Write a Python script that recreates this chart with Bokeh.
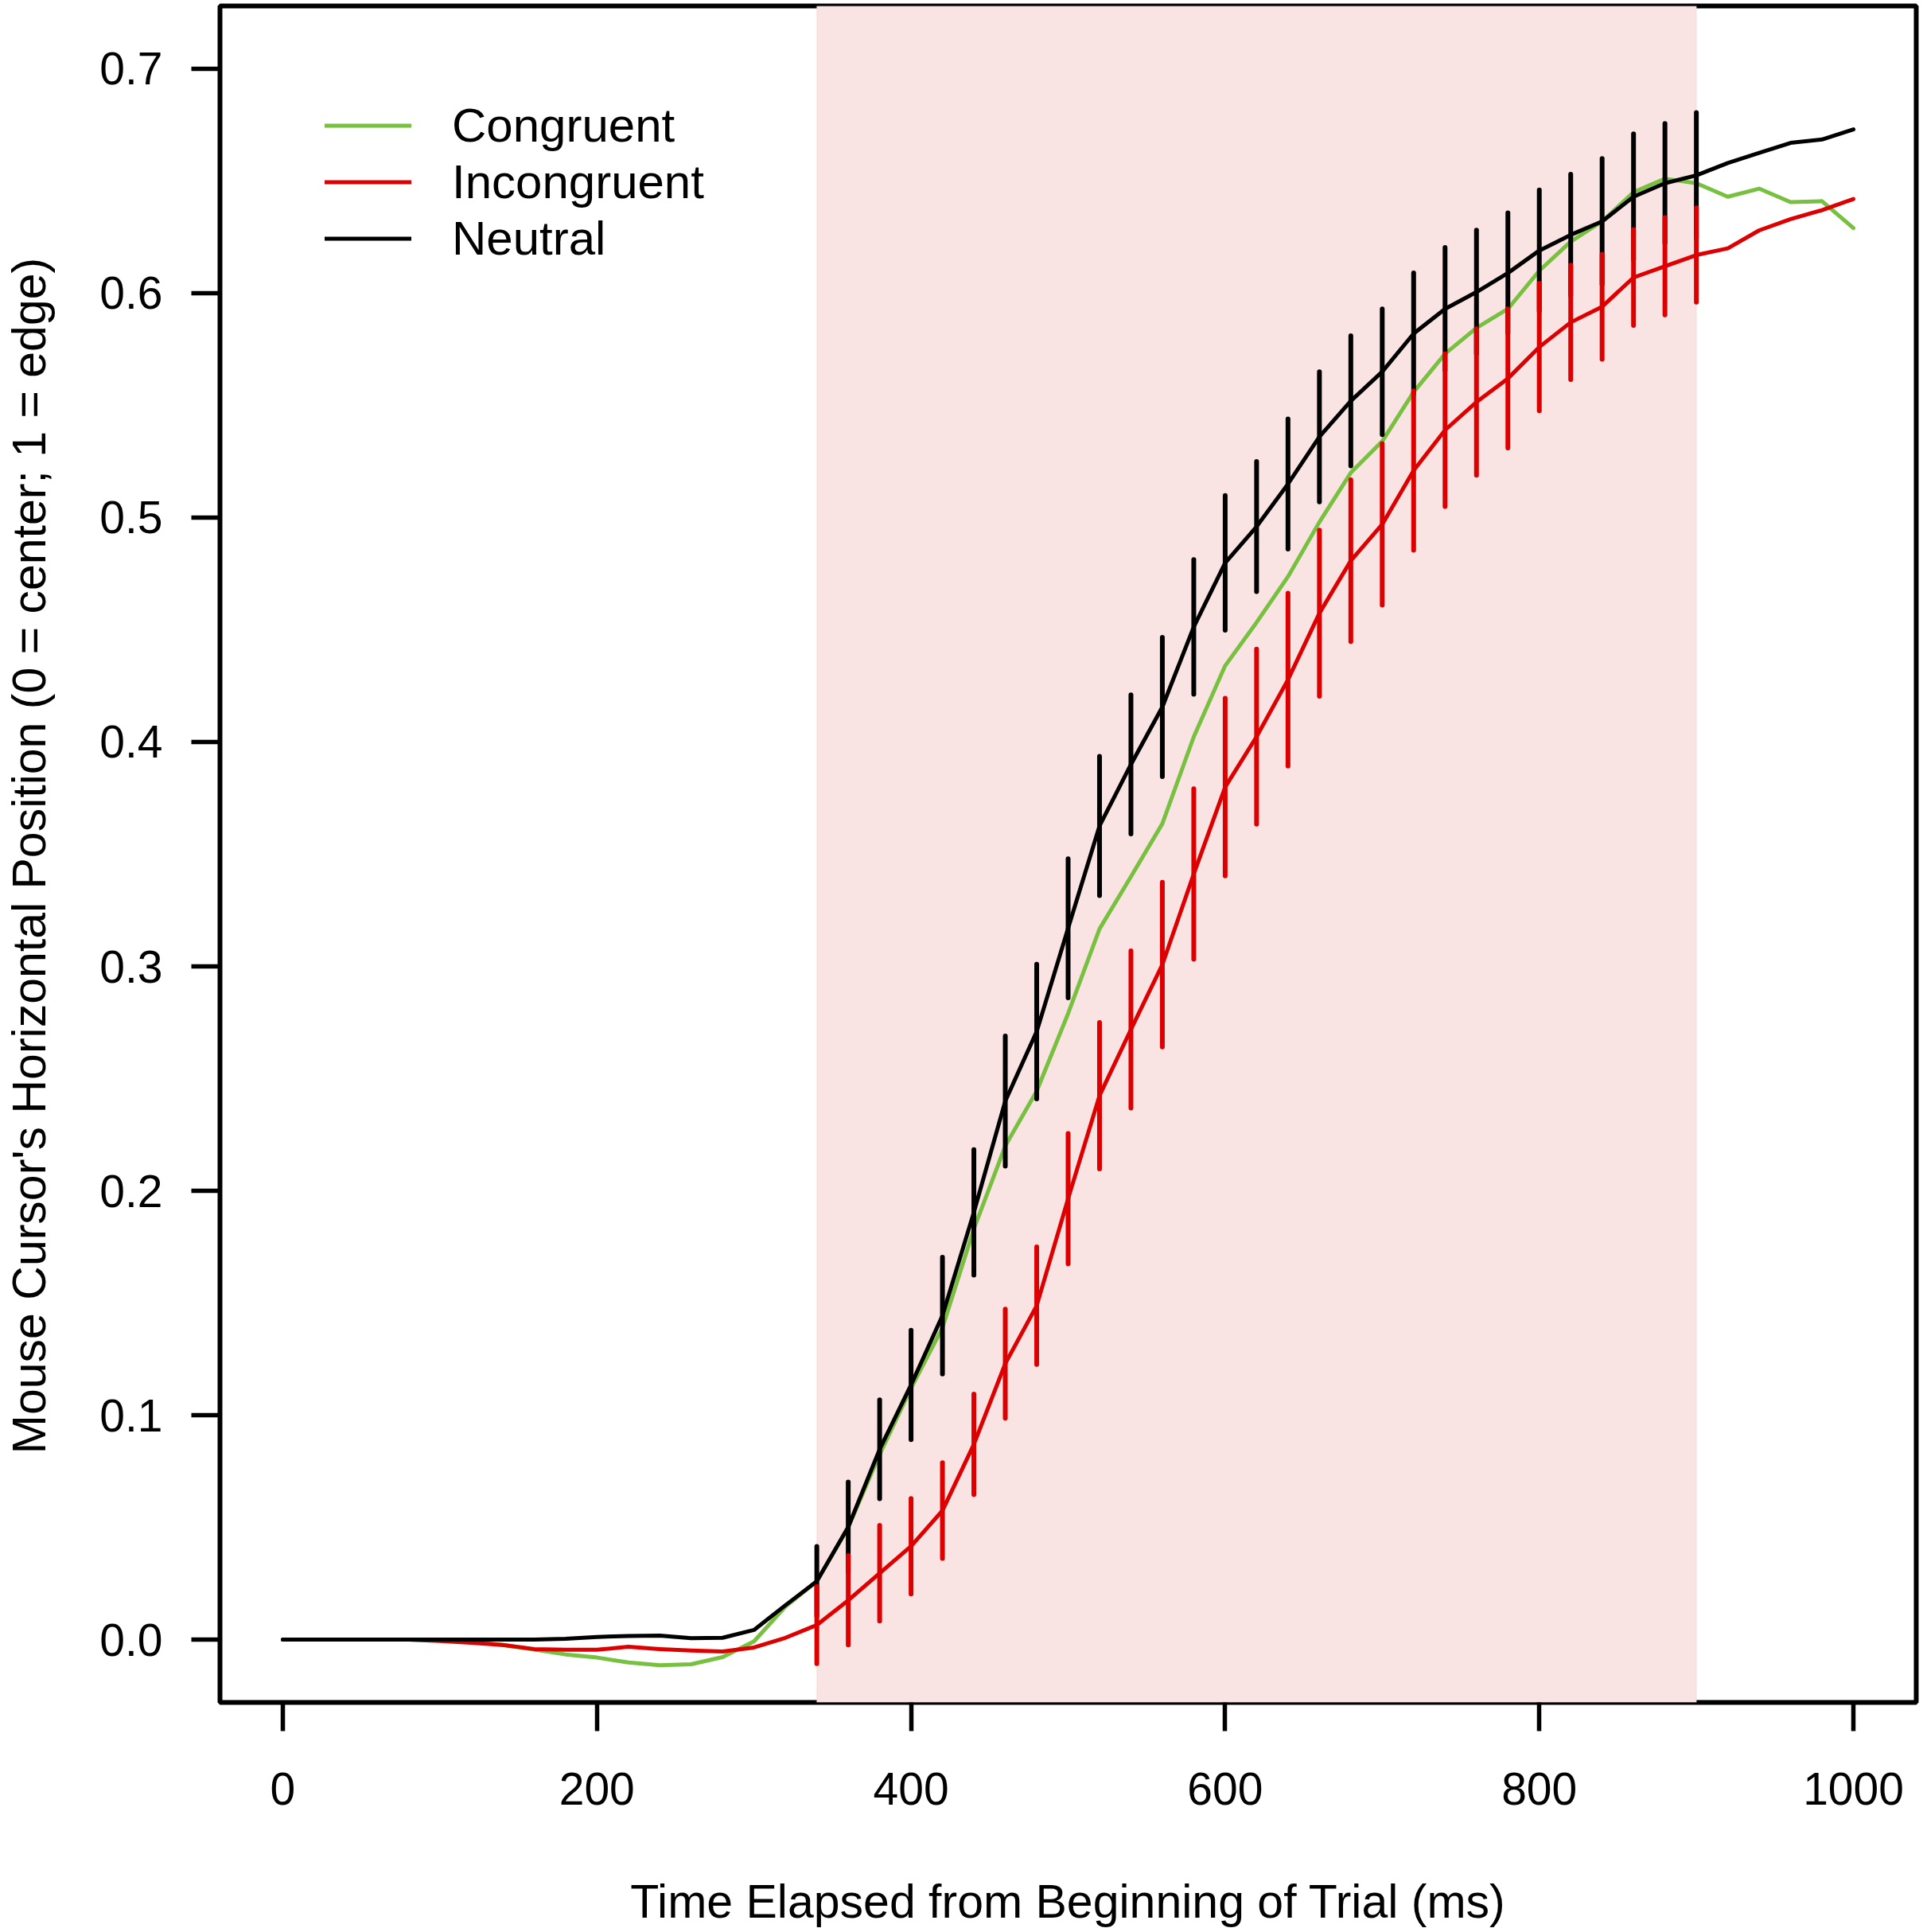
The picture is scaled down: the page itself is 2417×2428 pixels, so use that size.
import math
import numpy as np
from bokeh.plotting import figure
from bokeh.models import (Range1d, BoxAnnotation, Legend, LegendItem, FixedTicker,
                          ColumnDataSource, Label)
from bokeh.embed import file_html
from bokeh.resources import INLINE

# ---------------- data ----------------
time_ms = list(range(0, 1001, 20))

congruent = [0, 0, 0, 0, 0, -0.0002, -0.001, -0.0024, -0.0044, -0.0066,
             -0.008, -0.0102, -0.0114, -0.011, -0.0078, -0.0008, 0.0147, 0.026, 0.050, 0.0825,
             0.112, 0.139, 0.183, 0.220, 0.2444, 0.279, 0.3167, 0.340, 0.3636, 0.4023,
             0.434, 0.4533, 0.4737, 0.498, 0.52, 0.534, 0.556, 0.573, 0.5845, 0.593,
             0.61, 0.623, 0.632, 0.645, 0.651, 0.649, 0.643, 0.6466, 0.6406, 0.641, 0.629]

incongruent = [0, 0, 0, 0, 0, -0.0006, -0.0014, -0.0024, -0.0042, -0.0045,
               -0.0045, -0.0032, -0.0042, -0.0049, -0.0053, -0.0035, 0.0008, 0.0065, 0.0175, 0.0296,
               0.0416, 0.0575, 0.087, 0.123, 0.1488, 0.1965, 0.2424, 0.2719, 0.3008, 0.3412,
               0.3799, 0.4024, 0.4278, 0.4574, 0.4808, 0.497, 0.521, 0.539, 0.5515, 0.562,
               0.576, 0.587, 0.594, 0.607, 0.612, 0.617, 0.62, 0.628, 0.633, 0.637, 0.642]

neutral = [0, 0, 0, 0, 0, 0, 0, 0, 0, 0.0004,
           0.0012, 0.0016, 0.0018, 0.0006, 0.0008, 0.0043, 0.0153, 0.026, 0.0502, 0.0848,
           0.1135, 0.1444, 0.1904, 0.240, 0.271, 0.317, 0.3626, 0.390, 0.4156, 0.4513,
           0.4798, 0.496, 0.515, 0.536, 0.552, 0.565, 0.582, 0.593, 0.6005, 0.609,
           0.619, 0.626, 0.632, 0.643, 0.649, 0.6525, 0.658, 0.6625, 0.667, 0.6685, 0.673]

# error bars (half-widths) for 340..900 ms
err_time = list(range(340, 901, 20))
neutral_err = [0.0155, 0.020, 0.022, 0.0244, 0.026, 0.028, 0.029, 0.030, 0.031, 0.031,
               0.031, 0.031, 0.030, 0.030, 0.029, 0.029, 0.029, 0.029, 0.028, 0.027,
               0.0274, 0.0276, 0.0268, 0.027, 0.027, 0.028, 0.028, 0.0266, 0.028]
incongruent_err = [0.0172, 0.0199, 0.0213, 0.0213, 0.0213, 0.0224, 0.0243, 0.0262, 0.029, 0.0326,
                   0.035, 0.0367, 0.038, 0.0396, 0.039, 0.0385, 0.037, 0.036, 0.036, 0.0355,
                   0.034, 0.0326, 0.031, 0.0284, 0.0255, 0.0234, 0.0214, 0.0217, 0.021]

window_start, window_end = 340, 900

x_ticks = [0, 200, 400, 600, 800, 1000]
x_tick_labels = ["0", "200", "400", "600", "800", "1000"]
y_ticks = [0.0, 0.1, 0.2, 0.3, 0.4, 0.5, 0.6, 0.7]
y_tick_labels = ["0.0", "0.1", "0.2", "0.3", "0.4", "0.5", "0.6", "0.7"]

series_names = ["Congruent", "Incongruent", "Neutral"]
x_title = "Time Elapsed from Beginning of Trial (ms)"
y_title = "Mouse Cursor's Horizontal Position (0 = center; 1 = edge)"

GREEN = "#78C040"
RED = "#DD0000"
BLACK = "#000000"
FONT = "Liberation Sans"

X_MIN, X_MAX = -40, 1040
Y_MIN, Y_MAX = -0.028, 0.728

# ---------------- figure ----------------
p = figure(width=2417, height=2428,
           x_range=Range1d(X_MIN, X_MAX), y_range=Range1d(Y_MIN, Y_MAX),
           output_backend="svg", toolbar_location=None,
           min_border_left=276, min_border_right=9, min_border_top=7, min_border_bottom=289)

p.xgrid.visible = False
p.ygrid.visible = False
p.outline_line_color = "black"
p.outline_line_width = 6
p.background_fill_color = "white"
p.border_fill_color = "white"

shade = BoxAnnotation(left=window_start, right=window_end, fill_color="#F9E3E3", fill_alpha=1.0,
                      line_color="#F5CFCF", line_width=2, level="underlay")
p.add_layout(shade)

# lines
g = p.line(time_ms, congruent, line_color=GREEN, line_width=5, line_join="round", line_cap="round")
r = p.line(time_ms, incongruent, line_color=RED, line_width=5, line_join="round", line_cap="round")
k = p.line(time_ms, neutral, line_color=BLACK, line_width=5, line_join="round", line_cap="round")

# error bars
t = np.array(time_ms)
mask = (t >= window_start) & (t <= window_end)
n_mean = np.array(neutral)[mask]
i_mean = np.array(incongruent)[mask]
ne = np.array(neutral_err)
ie = np.array(incongruent_err)

src_n = ColumnDataSource(dict(x=err_time, lo=n_mean - ne, hi=n_mean + ne))
src_i = ColumnDataSource(dict(x=err_time, lo=i_mean - ie, hi=i_mean + ie))
p.segment(x0="x", y0="lo", x1="x", y1="hi", source=src_n, line_color=BLACK, line_width=6, line_cap="round")
p.segment(x0="x", y0="lo", x1="x", y1="hi", source=src_i, line_color=RED, line_width=6, line_cap="round")

# axes
for ax in (p.xaxis[0], p.yaxis[0]):
    ax.axis_line_color = None
    ax.major_tick_in = 0
    ax.major_tick_out = 36
    ax.major_tick_line_width = 5.5
    ax.major_tick_line_color = "black"
    ax.minor_tick_line_color = None
    ax.major_label_text_font = FONT
    ax.major_label_text_font_size = "57px"
    ax.major_label_text_color = "black"
    ax.axis_label_text_font = FONT
    ax.axis_label_text_font_size = "59px"
    ax.axis_label_text_font_style = "normal"
    ax.axis_label_text_color = "black"

p.xaxis.ticker = FixedTicker(ticks=x_ticks)
p.xaxis.major_label_overrides = dict(zip(x_ticks, x_tick_labels))
p.yaxis.ticker = FixedTicker(ticks=y_ticks)
p.yaxis.major_label_overrides = dict(zip(y_ticks, y_tick_labels))
p.xaxis.major_label_standoff = 52
p.yaxis.major_label_standoff = 36
p.xaxis.axis_label = x_title
p.xaxis.axis_label_standoff = 86

# y-axis title: rotated label in the left panel, positioned through the plot's scales
frame_w, frame_h = 2417 - 276 - 9, 2428 - 7 - 289
px_per_x = frame_w / (X_MAX - X_MIN)
px_per_y = frame_h / (Y_MAX - Y_MIN)
title_x = X_MIN - (276 - 36) / px_per_x
title_y = Y_MAX - (1075 - 7) / px_per_y
ylab = Label(x=title_x, y=title_y, x_units="data", y_units="data", text=y_title,
             angle=math.pi / 2, angle_units="rad", text_align="center", text_baseline="alphabetic",
             text_font=FONT, text_font_size="59px", text_color="black")
p.add_layout(ylab, "left")

legend = Legend(items=[LegendItem(label=series_names[0], renderers=[g]),
                       LegendItem(label=series_names[1], renderers=[r]),
                       LegendItem(label=series_names[2], renderers=[k])],
                location=(132, 1804), glyph_width=109, glyph_height=71, label_height=71,
                label_standoff=51, spacing=0, padding=0, margin=0,
                border_line_color=None, background_fill_alpha=0,
                label_text_font=FONT, label_text_font_size="60px", label_text_color="black")
p.add_layout(legend)

open("out.html", "w").write(file_html(p, INLINE))
